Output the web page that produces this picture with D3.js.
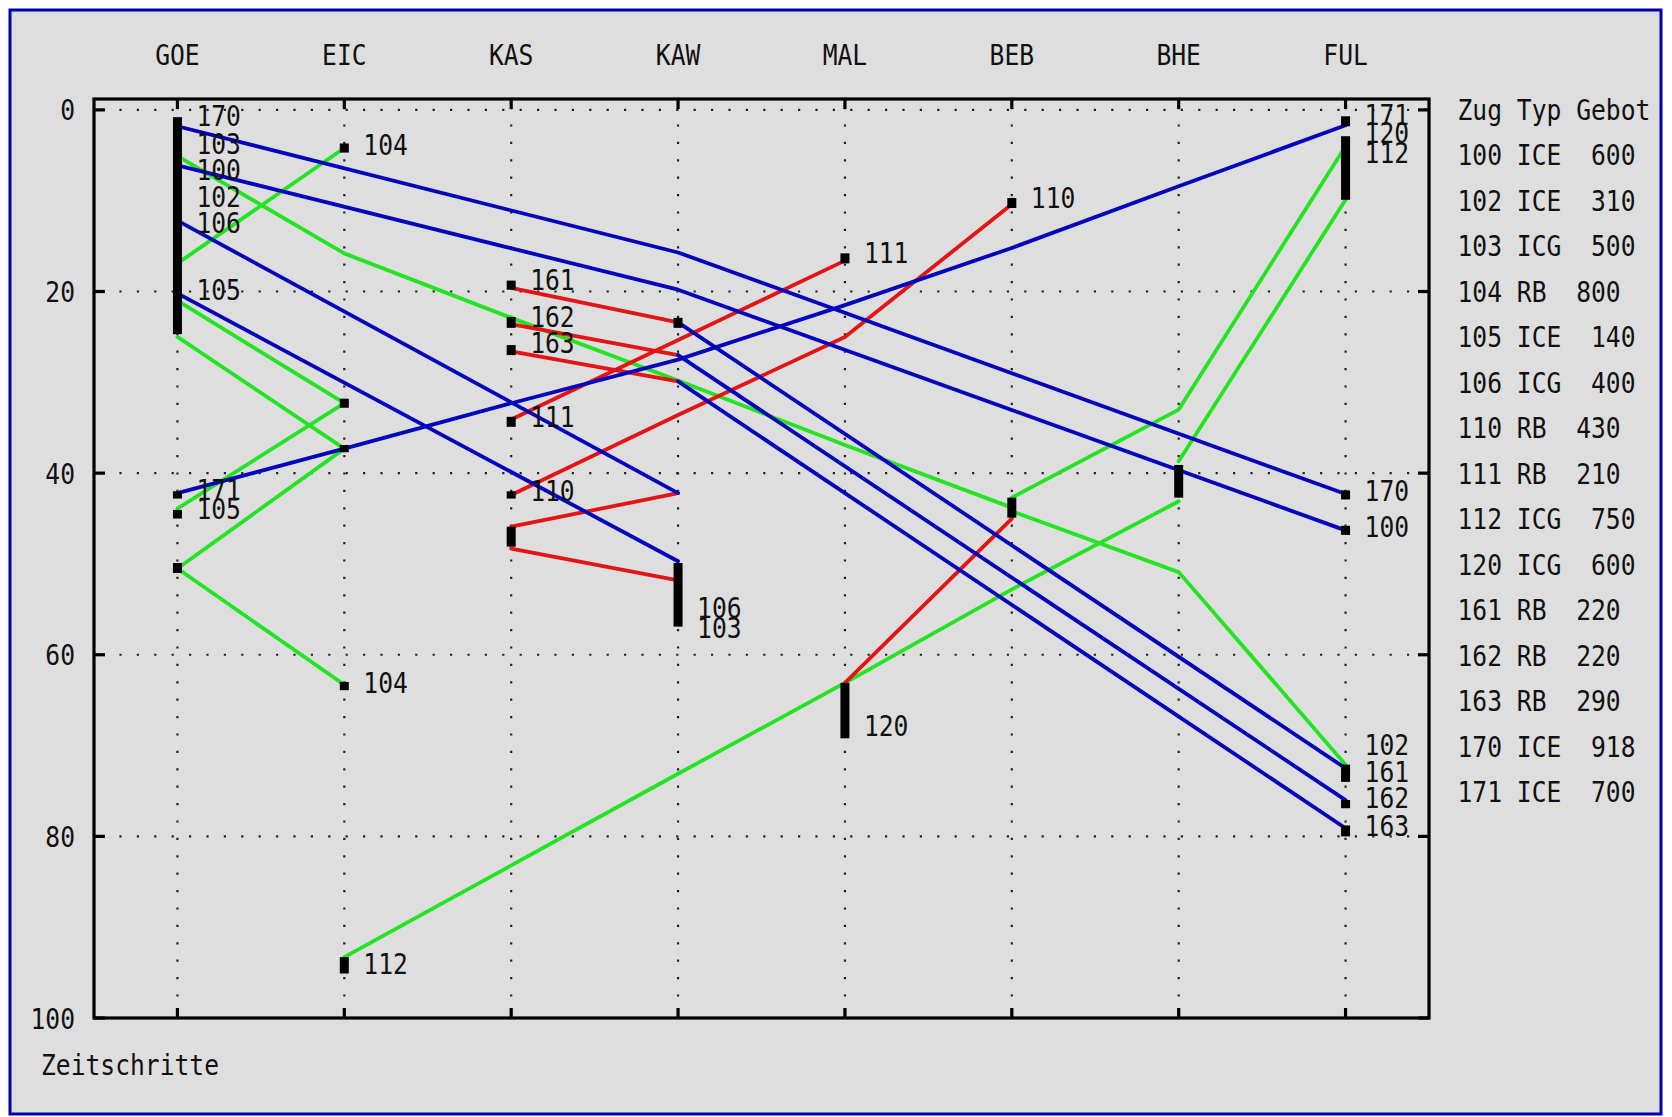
<!DOCTYPE html>
<html>
<head>
<meta charset="utf-8">
<script src="https://cdn.jsdelivr.net/npm/d3@7"></script>
<style>
  html, body { margin: 0; padding: 0; background: #ffffff; }
  svg { display: block; }
</style>
</head>
<body>
<svg id="chart" width="1672" height="1117"></svg>
<script>
// Stations along the line (x axis) and time steps (y axis, downward)
const stations = ["GOE", "EIC", "KAS", "KAW", "MAL", "BEB", "BHE", "FUL"];
const timeTicks = [0, 20, 40, 60, 80, 100];

// Train table: number, type, bid
const zugNr    = ["100", "102", "103", "104", "105", "106", "110", "111", "112", "120", "161", "162", "163", "170", "171"];
const zugTyp   = ["ICE", "ICE", "ICG", "RB", "ICE", "ICG", "RB", "RB", "ICG", "ICG", "RB", "RB", "RB", "ICE", "ICE"];
const zugGebot = [600, 310, 500, 800, 140, 400, 430, 210, 750, 600, 220, 220, 290, 918, 700];

// Runs as [stationIndex, timeStep] points, grouped by line colour
const blueRuns = [
  [[0, 1.8], [3, 15.7], [7, 42.3]],
  [[0, 6.1], [3, 19.8], [7, 46.3]],
  [[0, 12.2], [3, 42.2]],
  [[0, 20.2], [3, 49.7]],
  [[0, 42.2], [1, 37.3], [2, 32.3], [3, 27.5], [4, 21.5], [5, 15.2], [6, 8.4], [7, 1.7]],
  [[3, 23.4], [7, 72.5]],
  [[3, 27.0], [7, 76.0]],
  [[3, 29.9], [7, 79.1]]
];
const greenRuns = [
  [[1, 4.2], [0, 16.9]],
  [[0, 5.1], [1, 15.8], [2, 22.9], [3, 29.8], [4, 36.9], [5, 43.8], [5, 44.2], [6, 50.9], [7, 72.1]],
  [[7, 4.0], [6, 33.0], [5, 42.7]],
  [[7, 9.9], [6, 38.7]],
  [[6, 43.1], [5, 52.8], [4, 63.1], [3, 73.1], [2, 83.2], [1, 93.3]],
  [[0, 21.0], [1, 32.3], [0, 43.9]],
  [[0, 25.0], [1, 37.3], [0, 50.5], [1, 63.3]]
];
const redRuns = [
  [[2, 19.6], [3, 23.4]],
  [[2, 23.6], [3, 27.0]],
  [[2, 26.6], [3, 29.9]],
  [[4, 16.6], [2, 34.1]],
  [[5, 10.4], [4, 25.0], [3, 33.6], [2, 42.4]],
  [[3, 42.2], [2, 45.9]],
  [[2, 48.3], [3, 51.8]],
  [[5, 45.0], [4, 63.1]]
];

// Stops: [stationIndex, from, to]
const halts = [
  [0, 0.8, 24.7], [0, 42.0, 42.8], [0, 44.05, 45.0], [0, 49.9, 51.0],
  [1, 3.7, 4.7], [1, 31.8, 32.8], [1, 36.9, 37.7], [1, 63.0, 63.9], [1, 93.3, 95.1],
  [2, 18.8, 19.8], [2, 22.8, 24.0], [2, 25.9, 27.0], [2, 33.8, 34.9], [2, 42.0, 42.8], [2, 45.9, 48.1],
  [3, 22.9, 24.0], [3, 49.9, 56.9],
  [4, 15.8, 16.9], [4, 63.1, 69.2],
  [5, 9.7, 10.8], [5, 42.7, 44.9],
  [6, 39.1, 42.7],
  [7, 0.7, 1.8], [7, 2.9, 9.9], [7, 41.9, 42.9], [7, 45.8, 46.8], [7, 72.1, 74.0], [7, 76.0, 76.9], [7, 78.8, 80.0]
];

// Train number labels: [stationIndex, timeStep (baseline), text]
const trainLabels = [
  [0, 1.8, "170"], [0, 4.9, "103"], [0, 7.7, "100"], [0, 10.7, "102"], [0, 13.6, "106"], [0, 20.9, "105"],
  [0, 43.0, "171"], [0, 45.0, "105"],
  [1, 5.0, "104"], [1, 64.2, "104"], [1, 95.1, "112"],
  [2, 19.8, "161"], [2, 23.9, "162"], [2, 26.8, "163"], [2, 34.9, "111"], [2, 43.1, "110"],
  [3, 56.0, "106"], [3, 58.2, "103"],
  [4, 16.9, "111"], [4, 69.0, "120"],
  [5, 10.8, "110"],
  [7, 1.65, "171"], [7, 3.6, "120"], [7, 5.9, "112"], [7, 43.1, "170"], [7, 47.0, "100"],
  [7, 71.0, "102"], [7, 74.0, "161"], [7, 76.9, "162"], [7, 80.0, "163"]
];

const W = 1672, H = 1117;
const plot = { left: 94, right: 1429, top: 99, bottom: 1018 };
const colors = { blue: "#0404bc", green: "#22e422", red: "#e21414" };
const FONT = "'DejaVu Sans Mono', monospace";
const FS = 29, SX = 0.85;

const svg = d3.select("#chart");

const x = d3.scaleLinear().domain([-0.5, stations.length - 0.5]).range([plot.left, plot.right]);
const y = d3.scaleLinear().domain([-1.2, 100]).range([plot.top, plot.bottom]);

// Outer panel
svg.append("rect").attr("x", 0).attr("y", 0).attr("width", W).attr("height", H).attr("fill", "#ffffff");
svg.append("rect")
  .attr("x", 10).attr("y", 10).attr("width", 1651).attr("height", 1104)
  .attr("fill", "#dedede").attr("stroke", "#0000a8").attr("stroke-width", 3);

// Narrow monospace text helper
function txt(g, px, py, s, anchor) {
  return g.append("text")
    .attr("transform", `translate(${px},${py}) scale(${SX},1)`)
    .attr("font-family", FONT).attr("font-size", FS)
    .attr("text-anchor", anchor || "start")
    .attr("fill", "#111")
    .style("white-space", "pre")
    .text(s);
}

// Dotted grid
const grid = svg.append("g").attr("stroke", "#222").attr("stroke-width", 2.2)
  .attr("stroke-dasharray", "2.2,15.2").attr("fill", "none");
stations.forEach((s, i) => {
  grid.append("line").attr("x1", x(i)).attr("x2", x(i))
    .attr("y1", plot.top + 8).attr("y2", plot.bottom);
});
timeTicks.filter(t => t < 100).forEach(t => {
  grid.append("line").attr("y1", y(t)).attr("y2", y(t))
    .attr("x1", plot.left + 8).attr("x2", plot.right);
});

// Frame and ticks
const frame = svg.append("g").attr("stroke", "#000").attr("stroke-width", 3.2).attr("fill", "none");
frame.append("rect").attr("x", plot.left).attr("y", plot.top)
  .attr("width", plot.right - plot.left).attr("height", plot.bottom - plot.top);
stations.forEach((s, i) => {
  frame.append("line").attr("x1", x(i)).attr("x2", x(i)).attr("y1", plot.top).attr("y2", plot.top + 10);
  frame.append("line").attr("x1", x(i)).attr("x2", x(i)).attr("y1", plot.bottom).attr("y2", plot.bottom - 10);
});
timeTicks.forEach(t => {
  frame.append("line").attr("x1", plot.left).attr("x2", plot.left + 11).attr("y1", y(t)).attr("y2", y(t));
  frame.append("line").attr("x1", plot.right).attr("x2", plot.right - 11).attr("y1", y(t)).attr("y2", y(t));
});

// Axis texts
const axisText = svg.append("g");
stations.forEach((s, i) => txt(axisText, x(i), 65, s, "middle"));
timeTicks.forEach(t => txt(axisText, 75, y(t) + 10.5, String(t), "end"));
txt(axisText, 41, 1075, "Zeitschritte");

// Runs
const line = d3.line().x(d => x(d[0])).y(d => y(d[1]));
function drawRuns(runs, col) {
  svg.append("g").selectAll("path").data(runs).join("path")
    .attr("d", line)
    .attr("fill", "none")
    .attr("stroke", col)
    .attr("stroke-width", 3.8)
    .attr("stroke-linejoin", "round")
    .attr("stroke-linecap", "round");
}
drawRuns(greenRuns, colors.green);
drawRuns(redRuns, colors.red);
drawRuns(blueRuns, colors.blue);

// Stops
svg.append("g").selectAll("rect").data(halts).join("rect")
  .attr("x", d => x(d[0]) - 4.5)
  .attr("y", d => y(d[1]))
  .attr("width", 9)
  .attr("height", d => Math.max(7, y(d[2]) - y(d[1])))
  .attr("fill", "#000");

// Train labels
const lab = svg.append("g");
trainLabels.forEach(d => txt(lab, x(d[0]) + 19, y(d[1]), d[2]));

// Train table
const table = svg.append("g");
txt(table, 1457.5, 120, "Zug Typ Gebot");
zugNr.forEach((nr, i) => {
  const row = `${nr} ${zugTyp[i]}  ${String(zugGebot[i]).padStart(3, " ")}`;
  txt(table, 1457.5, 165 + 45.5 * i, row);
});
</script>
</body>
</html>
